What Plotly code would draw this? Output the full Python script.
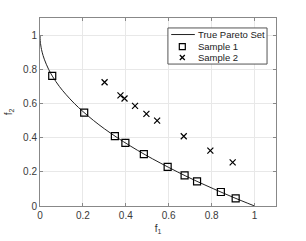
import plotly.graph_objects as go

# True Pareto front
front_f1 = [0, 0.001, 0.0025, 0.005, 0.01, 0.02, 0.04, 0.06, 0.09, 0.12, 0.16, 0.2, 0.25,
            0.3, 0.36, 0.42, 0.49, 0.56, 0.64, 0.72, 0.81, 0.9, 1.0]
front_f2 = [1.0, 0.968, 0.95, 0.929, 0.9, 0.859, 0.8, 0.755, 0.7, 0.654, 0.6, 0.553, 0.5,
            0.452, 0.4, 0.352, 0.3, 0.252, 0.2, 0.151, 0.1, 0.051, 0.0]

s1_f1 = [0.057, 0.206, 0.349, 0.398, 0.484, 0.595, 0.674, 0.732, 0.843, 0.912]
s1_f2 = [0.761, 0.546, 0.409, 0.369, 0.304, 0.229, 0.179, 0.144, 0.082, 0.045]

s2_f1 = [0.301, 0.375, 0.394, 0.443, 0.496, 0.546, 0.670, 0.794, 0.898]
s2_f2 = [0.724, 0.647, 0.629, 0.586, 0.539, 0.500, 0.408, 0.324, 0.255]

ticks = [0, 0.2, 0.4, 0.6, 0.8, 1]
tick_text = ["0", "0.2", "0.4", "0.6", "0.8", "1"]
legend_names = ["True Pareto Set", "Sample 1", "Sample 2"]

fig = go.Figure()
fig.add_trace(go.Scatter(x=front_f1, y=front_f2, mode="lines", name=legend_names[0],
                         showlegend=False,
                         line=dict(color="#222222", width=1, shape="spline")))
fig.add_trace(go.Scatter(x=s1_f1, y=s1_f2, mode="markers", name=legend_names[1],
                         showlegend=False,
                         marker=dict(symbol="square-open", size=7, color="black",
                                     line=dict(width=1.2, color="black"))))
fig.add_trace(go.Scatter(x=s2_f1, y=s2_f2, mode="markers", name=legend_names[2],
                         showlegend=False,
                         marker=dict(symbol="x-thin-open", size=6, color="black",
                                     line=dict(width=1.2, color="black"))))

axis_common = dict(range=[0, 1.1], tickvals=ticks, ticktext=tick_text,
                   showgrid=True, gridcolor="#e8e8e8", gridwidth=1,
                   zeroline=False, showline=True, linecolor="#888888", linewidth=1,
                   mirror="ticks", ticks="inside", ticklen=3, tickcolor="#888888",
                   automargin=False,
                   tickfont=dict(size=10, color="#3a3a3a"))

# ---- compact MATLAB-like legend drawn in paper coordinates ----
lx0, lx1, ly0, ly1 = 0.542, 0.962, 0.755, 0.947
rows = [0.912, 0.848, 0.790]
icon_x = 0.603
text_x = 0.660
shapes = [
    dict(type="rect", xref="paper", yref="paper", x0=lx0, x1=lx1, y0=ly0, y1=ly1,
         line=dict(color="#555555", width=1), fillcolor="white", layer="above"),
    dict(type="line", xref="paper", yref="paper", x0=0.556, x1=0.656, y0=rows[0], y1=rows[0],
         line=dict(color="#222222", width=1), layer="above"),
    dict(type="rect", xref="paper", yref="paper", x0=icon_x - 0.0127, x1=icon_x + 0.0127,
         y0=rows[1] - 0.016, y1=rows[1] + 0.016,
         line=dict(color="black", width=1.2), layer="above"),
    dict(type="line", xref="paper", yref="paper", x0=icon_x - 0.0106, x1=icon_x + 0.0106,
         y0=rows[2] - 0.0133, y1=rows[2] + 0.0133,
         line=dict(color="black", width=1.2), layer="above"),
    dict(type="line", xref="paper", yref="paper", x0=icon_x - 0.0106, x1=icon_x + 0.0106,
         y0=rows[2] + 0.0133, y1=rows[2] - 0.0133,
         line=dict(color="black", width=1.2), layer="above"),
]
annotations = [
    dict(xref="paper", yref="paper", x=text_x, y=r, text=t, showarrow=False,
         xanchor="left", yanchor="middle", font=dict(size=9.5, color="#222222"))
    for r, t in zip(rows, legend_names)
]

fig.update_layout(
    width=306, height=241,
    margin=dict(l=40, r=30, t=18, b=35),
    paper_bgcolor="white", plot_bgcolor="white",
    font=dict(family="Liberation Sans, Arial, sans-serif", size=10, color="#333333"),
    xaxis=dict(**axis_common, title=dict(text="f<sub>1</sub>", standoff=4,
                                         font=dict(size=10))),
    yaxis=dict(**axis_common, title=dict(text="f<sub>2</sub>", standoff=8,
                                         font=dict(size=10))),
    shapes=shapes,
    annotations=annotations,
    showlegend=False,
)

fig.write_html("out.html", config={"displayModeBar": False},
               post_script="document.body.style.margin='0';document.body.style.padding='0';")
